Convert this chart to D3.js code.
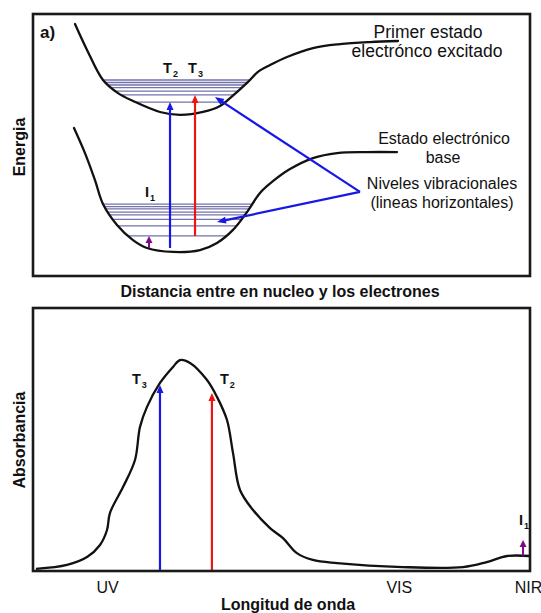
<!DOCTYPE html>
<html>
<head>
<meta charset="utf-8">
<script src="https://cdn.jsdelivr.net/npm/d3@7"></script>
<style>
  body { margin: 0; background: #fff; }
  svg { display: block; }
  text { font-family: "Liberation Sans", Arial, Helvetica, sans-serif; fill: #111; }
</style>
</head>
<body>
<svg id="chart" width="541" height="613"></svg>
<script>
// ---------- Panel a: potential energy curves (distance vs energy, arbitrary units) ----------
const excitedCurve = [
  [0.845, 9.62], [1.087, 8.63], [1.408, 7.48], [1.710, 6.98], [2.012, 6.68],
  [2.555, 6.26], [2.958, 6.15], [3.421, 6.26], [3.763, 6.49], [3.964, 6.79],
  [4.306, 7.37], [4.527, 7.79], [4.769, 8.05], [5.111, 8.36], [5.634, 8.70],
  [6.177, 8.85], [6.781, 8.93], [7.344, 8.97]
];
const groundCurve = [
  [0.825, 5.65], [1.046, 4.69], [1.247, 3.66], [1.408, 2.75], [1.690, 1.95],
  [2.012, 1.37], [2.294, 1.07], [2.817, 0.92], [3.360, 0.99], [3.702, 1.26],
  [4.024, 1.76], [4.306, 2.44], [4.567, 3.17], [4.809, 3.59], [5.171, 4.08],
  [5.634, 4.50], [6.117, 4.69], [6.720, 4.73], [7.324, 4.73]
];
// vibrational levels (energy) inside each well
const excitedLevels = [7.48, 7.385, 7.29, 7.19, 7.06, 6.91, 6.64];
const groundLevels  = [2.74, 2.645, 2.56, 2.44, 2.33, 2.16, 1.91, 1.53];

// electronic / vibrational transitions: label, subscript, distance, from E, to E
const transitionNames = ["T", "T", "I"];
const transitionSubs  = ["2", "3", "1"];
const transitionX     = [2.757, 3.260, 2.334];
const transitionFrom  = [1.07, 1.53, 1.07];
const transitionTo    = [6.64, 6.91, 1.53];

// pointer from the "Niveles vibracionales" note to both ladders
const pointerVertex = [6.579, 3.21];
const pointerTips   = [[3.662, 6.83], [3.702, 2.06]];

// ---------- Panel b: absorption spectrum ----------
const wavelength = [0.06, 0.684, 1.087, 1.348, 1.489, 1.549, 1.811, 2.052, 2.153, 2.294,
  2.555, 2.817, 2.958, 3.159, 3.501, 3.702, 3.903, 4.024, 4.165, 4.427, 4.769, 5.03,
  5.31, 5.63, 6.12, 7.44, 8.65, 9.13, 9.54, 10.0];
const absorbance = [0.008, 0.023, 0.053, 0.099, 0.156, 0.221, 0.319, 0.422, 0.548, 0.624,
  0.715, 0.776, 0.802, 0.791, 0.726, 0.662, 0.574, 0.449, 0.308, 0.232, 0.163, 0.125,
  0.068, 0.042, 0.030, 0.015, 0.015, 0.034, 0.057, 0.057];
const bandLabels    = ["UV", "VIS", "NIR"];
const bandPositions = [1.49, 7.36, 9.96];
// absorption bands marked on the spectrum
const bandNames = ["T", "T", "I"];
const bandSubs  = ["3", "2", "1"];
const bandX     = [2.555, 3.60, 9.86];
const bandFrom  = [0, 0, 0.057];
const bandTo    = [0.707, 0.677, 0.118];

const BLUE = "#1818e6", RED = "#ee1414", PURPLE = "#7d0a85", LEVEL = "#7272aa";
const arrowColors = [BLUE, RED, PURPLE];

const svg = d3.select("#chart");

// ---- helpers ----
function arrow(g, x1, y1, x2, y2, color, width, headLen, headW) {
  const dx = x2 - x1, dy = y2 - y1, len = Math.hypot(dx, dy);
  const ux = dx / len, uy = dy / len;
  const bx = x2 - ux * headLen, by = y2 - uy * headLen;
  g.append("line")
    .attr("x1", x1).attr("y1", y1).attr("x2", bx + ux * 1).attr("y2", by + uy * 1)
    .attr("stroke", color).attr("stroke-width", width);
  g.append("path")
    .attr("d", `M${x2},${y2}L${bx - uy * headW / 2},${by + ux * headW / 2}L${bx + uy * headW / 2},${by - ux * headW / 2}Z`)
    .attr("fill", color);
}
function subLabel(g, x, y, main, sub, size, subSize) {
  const t = g.append("text").attr("x", x).attr("y", y)
    .attr("font-size", size).attr("font-weight", "bold");
  t.append("tspan").text(main);
  t.append("tspan").attr("dx", 1).attr("dy", 4).attr("font-size", subSize).text(sub);
}
// sample a rendered path, then find where a horizontal level meets the well walls
function wellWalls(pathNode, yPx) {
  const L = pathNode.getTotalLength(), pts = [];
  for (let i = 0; i <= 800; i++) pts.push(pathNode.getPointAtLength(L * i / 800));
  let iMin = 0;
  pts.forEach((p, i) => { if (p.y > pts[iMin].y) iMin = i; });
  let l = iMin; while (l > 0 && pts[l].y > yPx) l--;
  let r = iMin; while (r < pts.length - 1 && pts[r].y > yPx) r++;
  return [pts[l].x, pts[r].x];
}

// ================= Panel a =================
const A = { left: 33, right: 530, top: 14, bottom: 276 };
const xa = d3.scaleLinear().domain([0, 10]).range([A.left, A.right]);
const ya = d3.scaleLinear().domain([0, 10]).range([A.bottom, A.top]);
const ga = svg.append("g");

const lineA = d3.line().x(d => xa(d[0])).y(d => ya(d[1])).curve(d3.curveCatmullRom.alpha(0.5));

// vibrational ladders (drawn under the curves)
const excitedPath = ga.append("path").attr("d", lineA(excitedCurve))
  .attr("fill", "none").attr("stroke", "none");
const groundPath = ga.append("path").attr("d", lineA(groundCurve))
  .attr("fill", "none").attr("stroke", "none");

[[excitedLevels, excitedPath], [groundLevels, groundPath]].forEach(([levels, p]) => {
  levels.forEach(e => {
    const y = ya(e);
    const [x1, x2] = wellWalls(p.node(), y);
    ga.append("line").attr("x1", x1).attr("x2", x2).attr("y1", y).attr("y2", y)
      .attr("stroke", LEVEL).attr("stroke-width", 1.3);
  });
});

[excitedPath, groundPath].forEach(p => p.attr("stroke", "#111").attr("stroke-width", 2.3)
  .attr("stroke-linecap", "round").raise());

// transitions
transitionX.forEach((x, i) => {
  const small = i === 2;
  arrow(ga, xa(x), ya(transitionFrom[i]), xa(x), ya(transitionTo[i]), arrowColors[i],
    small ? 2 : 2.2, small ? 7 : 8, 7);
});
subLabel(ga, xa(transitionX[0]) - 7, 73, transitionNames[0], transitionSubs[0], 14.5, 9);
subLabel(ga, xa(transitionX[1]) - 7, 73, transitionNames[1], transitionSubs[1], 14.5, 9);
subLabel(ga, xa(transitionX[2]) - 4, 197, transitionNames[2], transitionSubs[2], 14.5, 9);

// pointer to the vibrational levels
pointerTips.forEach(t => {
  arrow(ga, xa(pointerVertex[0]), ya(pointerVertex[1]), xa(t[0]), ya(t[1]), BLUE, 2.2, 9, 7);
});

// frame
ga.append("rect").attr("x", A.left).attr("y", A.top)
  .attr("width", A.right - A.left).attr("height", A.bottom - A.top)
  .attr("fill", "none").attr("stroke", "#1a1a1a").attr("stroke-width", 2.6);

ga.append("text").attr("x", 40).attr("y", 38).attr("font-size", 17).attr("font-weight", "bold").text("a)");

// state annotations
const note = (g, x, y, txt, size) => g.append("text").attr("x", x).attr("y", y)
  .attr("text-anchor", "middle").attr("font-size", size).text(txt);
note(ga, 428, 38, "Primer estado", 17.5);
note(ga, 427, 57, "electrónco excitado", 17.5);
note(ga, 444, 144, "Estado electrónico", 16);
note(ga, 443, 163, "base", 16);
note(ga, 442, 189, "Niveles vibracionales", 16);
note(ga, 442, 208, "(lineas horizontales)", 16);

// axis titles
ga.append("text").attr("transform", `translate(25,${(A.top + A.bottom) / 2 + 2}) rotate(-90)`)
  .attr("text-anchor", "middle").attr("font-size", 16).attr("font-weight", "bold").text("Energia");
ga.append("text").attr("x", 280).attr("y", 297).attr("text-anchor", "middle")
  .attr("font-size", 16).attr("font-weight", "bold").text("Distancia entre en nucleo y los electrones");

// ================= Panel b =================
const B = { left: 33, right: 530, top: 308, bottom: 571 };
const xb = d3.scaleLinear().domain([0, 10]).range([B.left, B.right]);
const yb = d3.scaleLinear().domain([0, 1]).range([B.bottom, B.top]);
const gb = svg.append("g");

const spectrum = wavelength.map((w, i) => [w, absorbance[i]]);
gb.append("path")
  .attr("d", d3.line().x(d => xb(d[0])).y(d => yb(d[1])).curve(d3.curveCatmullRom.alpha(0.5))(spectrum))
  .attr("fill", "none").attr("stroke", "#111").attr("stroke-width", 2.3);

bandX.forEach((x, i) => {
  const small = i === 2;
  arrow(gb, xb(x), yb(bandFrom[i]), xb(x), yb(bandTo[i]), arrowColors[i],
    small ? 2 : 2.2, small ? 7 : 8, 7);
});
subLabel(gb, xb(bandX[0]) - 28, 384, bandNames[0], bandSubs[0], 14.5, 9);
subLabel(gb, xb(bandX[1]) + 8, 384, bandNames[1], bandSubs[1], 14.5, 9);
subLabel(gb, xb(bandX[2]) - 4, 525, bandNames[2], bandSubs[2], 14.5, 9);

gb.append("rect").attr("x", B.left).attr("y", B.top)
  .attr("width", B.right - B.left).attr("height", B.bottom - B.top)
  .attr("fill", "none").attr("stroke", "#1a1a1a").attr("stroke-width", 2.6);

// band axis
const axisB = d3.axisBottom(xb).tickValues(bandPositions)
  .tickFormat((d, i) => bandLabels[i]).tickSize(0).tickPadding(11);
const ax = gb.append("g").attr("transform", `translate(0,${B.bottom})`).call(axisB);
ax.select(".domain").remove();
ax.selectAll("text").attr("font-size", 16).attr("fill", "#222")
  .style("font-family", "'Liberation Sans', Arial, sans-serif");

gb.append("text").attr("transform", `translate(25,440) rotate(-90)`)
  .attr("text-anchor", "middle").attr("font-size", 16).attr("font-weight", "bold").text("Absorbancia");
gb.append("text").attr("x", 288).attr("y", 610).attr("text-anchor", "middle")
  .attr("font-size", 16).attr("font-weight", "bold").text("Longitud de onda");
</script>
</body>
</html>
